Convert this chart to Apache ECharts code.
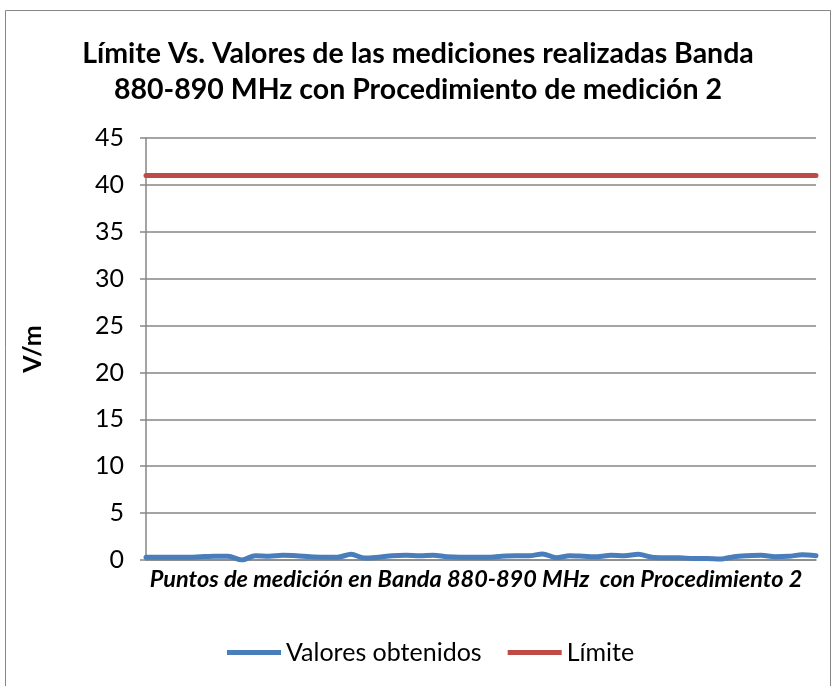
<!DOCTYPE html>
<html>
<head>
<meta charset="utf-8">
<script src="https://cdn.jsdelivr.net/npm/echarts@6/dist/echarts.min.js"></script>
<style>
  html, body { margin: 0; padding: 0; background: #ffffff; }
  #chart { width: 836px; height: 686px; }
</style>
</head>
<body>
<div id="chart"></div>
<script>
// Measurement points (index only) and measured field strength in V/m
const puntos = Array.from({ length: 50 }, (_, i) => String(i + 1));
const valoresObtenidos = [
  0.3, 0.3, 0.3, 0.3, 0.35, 0.4, 0.4, 0.0, 0.45, 0.4,
  0.5, 0.45, 0.35, 0.3, 0.3, 0.6, 0.2, 0.3, 0.45, 0.5,
  0.45, 0.5, 0.35, 0.3, 0.3, 0.3, 0.4, 0.45, 0.45, 0.65,
  0.25, 0.45, 0.4, 0.35, 0.5, 0.45, 0.6, 0.3, 0.25, 0.25,
  0.15, 0.15, 0.1, 0.35, 0.45, 0.5, 0.35, 0.4, 0.55, 0.45
];
// Regulatory limit for the band
const limiteValor = 41;
const limite = puntos.map(() => limiteValor);
const yTicks = { min: 0, max: 45, interval: 5 };

const FONT = 'Lato, "Open Sans", sans-serif';
const chart = echarts.init(document.getElementById('chart'), null, { renderer: 'canvas' });

chart.setOption({
  animation: false,
  backgroundColor: '#ffffff',
  title: {
    text: 'Límite Vs. Valores de las mediciones realizadas Banda\n880-890 MHz con Procedimiento de medición 2',
    left: 'center',
    top: 31,
    textStyle: { fontFamily: FONT, fontWeight: 'bold', fontSize: 28.5, lineHeight: 36, color: '#000000' }
  },
  graphic: [{
    type: 'rect',
    shape: { x: 5.5, y: 10.5, width: 825, height: 690 },
    style: { fill: 'none', stroke: '#868686', lineWidth: 1 },
    silent: true
  }],
  legend: {
    bottom: 16,
    left: 222,
    itemWidth: 54,
    itemHeight: 5,
    itemGap: 26,
    icon: 'rect',
    textStyle: { fontFamily: FONT, fontSize: 25, color: '#000000' },
    data: ['Valores obtenidos', 'Límite']
  },
  grid: { left: 146, right: 20, top: 138, bottom: 126 },
  xAxis: {
    type: 'category',
    data: puntos,
    boundaryGap: false,
    name: 'Puntos de medición en Banda 880-890 MHz  con Procedimiento 2',
    nameLocation: 'middle',
    nameGap: 8,
    nameTextStyle: { fontFamily: FONT, fontStyle: 'italic', fontWeight: 'bold', fontSize: 23.5, color: '#000000', verticalAlign: 'top', padding: [0, 10, 0, 0] },
    axisLine: { lineStyle: { color: '#868686', width: 1.5 } },
    axisTick: { show: false },
    axisLabel: { show: false },
    splitLine: { show: false }
  },
  yAxis: {
    type: 'value',
    min: yTicks.min,
    max: yTicks.max,
    interval: yTicks.interval,
    name: 'V/m',
    nameLocation: 'middle',
    nameGap: 101,
    nameRotate: 90,
    nameTextStyle: { fontFamily: FONT, fontWeight: 'bold', fontSize: 25, color: '#000000' },
    axisLine: { show: true, lineStyle: { color: '#868686', width: 1.5 } },
    axisTick: { show: true, length: 6, inside: false, lineStyle: { color: '#868686', width: 1.5 } },
    axisLabel: { fontFamily: FONT, fontSize: 25, color: '#000000', margin: 22 },
    splitLine: { show: true, lineStyle: { color: '#868686', width: 1.5 } }
  },
  series: [
    {
      name: 'Valores obtenidos',
      type: 'line',
      data: valoresObtenidos,
      smooth: 0.3,
      symbol: 'none',
      color: '#4a7ebb',
      lineStyle: { width: 5, color: '#4a7ebb', cap: 'round', join: 'round' }
    },
    {
      name: 'Límite',
      type: 'line',
      data: limite,
      symbol: 'none',
      color: '#be4b48',
      lineStyle: { width: 5, color: '#be4b48', cap: 'round' }
    }
  ]
});
</script>
</body>
</html>
